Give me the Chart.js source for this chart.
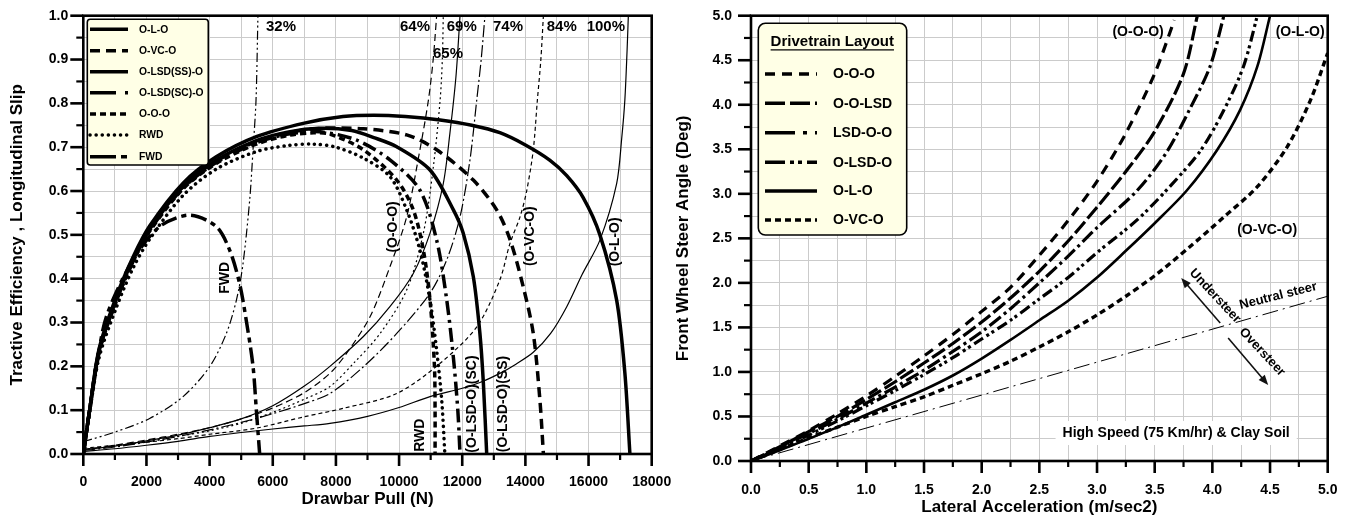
<!DOCTYPE html>
<html><head><meta charset="utf-8">
<script src="https://cdn.jsdelivr.net/npm/chart.js@4/dist/chart.umd.min.js"></script>
<style>
html,body{margin:0;padding:0;background:#fff;width:1351px;height:519px;overflow:hidden;}
#c1{position:absolute;left:0;top:0;}
#c2{position:absolute;left:665px;top:0;}
</style></head><body>
<canvas id="c1" width="675" height="519"></canvas>
<canvas id="c2" width="686" height="519"></canvas>
<script>
// ---------------- LEFT CHART DATA (Drawbar Pull N, value) ----------------
const leftXTicks = [0, 2000, 4000, 6000, 8000, 10000, 12000, 14000, 16000, 18000];
const leftYTicks = [0.0, 0.1, 0.2, 0.3, 0.4, 0.5, 0.6, 0.7, 0.8, 0.9, 1.0];

const oloEff = [[0,0],[200,0.1],[500,0.24],[1050,0.36],[1580,0.45],[2100,0.52],[3160,0.618],[4210,0.678],[5480,0.724],[7000,0.755],[8225,0.77],[9200,0.773],[10200,0.77],[11300,0.762],[12300,0.75],[13190,0.733],[14000,0.705],[14780,0.67],[15310,0.635],[15830,0.585],[16360,0.5],[16890,0.351],[17150,0.185],[17310,0]];
const ovcoEff = [[0,0],[200,0.1],[500,0.235],[1050,0.355],[1580,0.445],[2100,0.513],[3160,0.61],[4210,0.668],[5480,0.713],[6500,0.733],[7500,0.743],[8870,0.742],[10240,0.728],[11190,0.694],[12350,0.625],[13090,0.557],[13510,0.49],[13930,0.382],[14250,0.275],[14460,0.123],[14570,0]];
const olsdSSEff = [[0,0],[200,0.1],[500,0.235],[1050,0.355],[1580,0.445],[2100,0.513],[3160,0.61],[4210,0.67],[5480,0.715],[6500,0.735],[7500,0.743],[8500,0.738],[9200,0.722],[9925,0.701],[10980,0.648],[11720,0.557],[12030,0.504],[12350,0.405],[12560,0.275],[12670,0.161],[12775,0]];
const olsdSCEff = [[0,0],[200,0.1],[500,0.235],[1050,0.35],[1580,0.44],[2100,0.51],[3160,0.607],[4210,0.665],[5480,0.71],[6500,0.73],[7500,0.735],[8660,0.716],[9710,0.671],[10660,0.602],[11190,0.488],[11510,0.351],[11720,0.22],[11860,0.1],[11930,0]];
const oooEff = [[0,0],[200,0.1],[500,0.232],[1050,0.35],[1580,0.44],[2100,0.508],[3160,0.605],[4210,0.663],[5480,0.707],[6500,0.727],[7300,0.733],[7810,0.73],[8870,0.694],[9925,0.625],[10450,0.557],[10770,0.465],[10980,0.351],[11120,0.2],[11140,0.1],[11140,0]];
const rwdEff = [[0,0],[200,0.095],[500,0.22],[1050,0.335],[1580,0.425],[2100,0.49],[3160,0.59],[4210,0.65],[5480,0.69],[6500,0.704],[7300,0.707],[8000,0.7],[8870,0.675],[9710,0.633],[10240,0.557],[10660,0.465],[10980,0.351],[11190,0.237],[11350,0.123],[11450,0]];
const fwdEff = [[0,0],[200,0.1],[400,0.19],[730,0.313],[1575,0.443],[2420,0.519],[3370,0.545],[4210,0.519],[4635,0.465],[4950,0.389],[5160,0.305],[5375,0.2],[5480,0.1],[5585,0]];

const oloSlip = [[0,0.006],[1000,0.012],[2000,0.02],[3000,0.029],[4000,0.04],[5000,0.049],[6000,0.057],[7000,0.064],[7810,0.07],[9000,0.086],[10000,0.106],[10980,0.131],[12000,0.15],[12560,0.163],[13190,0.184],[13700,0.205],[14250,0.232],[14800,0.275],[15310,0.336],[15800,0.41],[16360,0.488],[16890,0.617],[17050,0.72],[17150,0.808],[17220,0.92],[17260,1.0]];
const ovcoSlip = [[0,0.013],[1000,0.02],[2000,0.027],[3000,0.035],[4000,0.045],[5480,0.059],[7000,0.085],[8225,0.104],[9925,0.138],[11300,0.207],[12460,0.29],[13190,0.397],[13510,0.48],[13830,0.541],[14040,0.6],[14250,0.694],[14380,0.808],[14490,0.9],[14570,1.0]];
const olsdSSSlip = [[0,0.008],[1000,0.016],[2000,0.027],[3000,0.04],[4000,0.055],[5000,0.072],[6000,0.092],[7000,0.115],[7810,0.138],[8870,0.199],[9925,0.275],[10980,0.367],[11510,0.443],[11930,0.541],[12245,0.671],[12460,0.808],[12600,0.9],[12720,1.0]];
const olsdSCSlip = [[0,0.01],[1000,0.018],[2000,0.03],[3000,0.043],[4000,0.06],[5000,0.08],[6000,0.11],[7000,0.155],[7810,0.2],[8870,0.268],[9710,0.336],[10450,0.412],[10980,0.504],[11400,0.617],[11610,0.732],[11800,0.86],[11930,1.0]];
const oooSlip = [[0,0.01],[1000,0.02],[2000,0.032],[3000,0.045],[4000,0.06],[5000,0.08],[6000,0.105],[7000,0.14],[7810,0.184],[8340,0.23],[9080,0.313],[9710,0.427],[10240,0.541],[10660,0.694],[10930,0.808],[11080,0.9],[11190,1.0]];
const rwdSlip = [[0,0.01],[1000,0.018],[2000,0.028],[3000,0.04],[4000,0.053],[5000,0.07],[6000,0.095],[7000,0.125],[7810,0.154],[8600,0.21],[9400,0.275],[10240,0.374],[10770,0.504],[11085,0.655],[11300,0.808],[11370,0.9],[11400,1.0]];
const fwdSlip = [[0,0.028],[1000,0.05],[2100,0.081],[3160,0.131],[4000,0.199],[4530,0.275],[4845,0.35],[5050,0.43],[5270,0.58],[5375,0.694],[5470,0.808],[5530,1.0]];

// ---------------- RIGHT CHART DATA (Lateral acc m/s2, steer angle deg) ----------------
const rightXTicks = [0.0, 0.5, 1.0, 1.5, 2.0, 2.5, 3.0, 3.5, 4.0, 4.5, 5.0];
const rightYTicks = [0.0, 0.5, 1.0, 1.5, 2.0, 2.5, 3.0, 3.5, 4.0, 4.5, 5.0];

const steerOOO = [[0,0],[0.25,0.17],[0.5,0.34],[0.75,0.53],[1.0,0.73],[1.25,0.95],[1.5,1.18],[1.75,1.42],[2.0,1.68],[2.25,1.95],[2.5,2.31],[2.75,2.7],[3.0,3.14],[3.25,3.68],[3.5,4.35],[3.67,4.95]];
const steerOOLSD = [[0,0],[0.25,0.16],[0.5,0.33],[0.75,0.5],[1.0,0.69],[1.25,0.89],[1.5,1.1],[1.75,1.32],[2.0,1.56],[2.25,1.83],[2.5,2.13],[2.75,2.47],[3.0,2.85],[3.25,3.25],[3.5,3.7],[3.75,4.35],[3.87,5.0]];
const steerLSDOO = [[0,0],[0.25,0.15],[0.5,0.31],[0.75,0.47],[1.0,0.65],[1.25,0.83],[1.5,1.02],[1.75,1.23],[2.0,1.45],[2.25,1.71],[2.5,2.0],[2.75,2.3],[3.0,2.62],[3.35,3.04],[3.6,3.46],[3.8,3.94],[3.98,4.43],[4.1,5.0]];
const steerOLSDO = [[0,0],[0.25,0.14],[0.5,0.29],[0.75,0.45],[1.0,0.62],[1.25,0.79],[1.5,0.97],[1.75,1.16],[2.0,1.37],[2.25,1.58],[2.5,1.82],[2.75,2.06],[3.0,2.34],[3.35,2.71],[3.63,3.08],[3.9,3.49],[4.1,3.94],[4.27,4.43],[4.39,5.0]];
const steerOLO = [[0,0],[0.25,0.12],[0.5,0.25],[0.75,0.38],[1.0,0.52],[1.25,0.66],[1.5,0.8],[1.75,0.96],[2.0,1.15],[2.25,1.36],[2.5,1.58],[2.75,1.8],[3.0,2.06],[3.25,2.36],[3.5,2.67],[3.78,3.04],[4.04,3.49],[4.24,3.94],[4.39,4.43],[4.5,5.0]];
const steerOVCO = [[0,0],[0.25,0.13],[0.5,0.26],[0.75,0.38],[1.0,0.5],[1.25,0.61],[1.5,0.72],[1.75,0.85],[2.0,0.98],[2.25,1.12],[2.5,1.28],[2.75,1.45],[3.0,1.64],[3.25,1.85],[3.5,2.08],[3.8,2.4],[4.1,2.74],[4.39,3.08],[4.65,3.53],[4.85,4.05],[5.0,4.58]];
const neutralSteer = [[0,0],[5,1.85]];

// ---------------- helpers ----------------
const FONT = '"Liberation Sans", Arial, Helvetica, sans-serif';
const pts = a => a.map(([x, y]) => ({x, y}));
function line(label, arr, width, dash, extra) {
  return Object.assign({label, data: pts(arr), showLine: true, borderColor: '#000', backgroundColor: '#000',
    borderWidth: width, borderDash: dash, pointRadius: 0, pointHoverRadius: 0, tension: 0.3, fill: false}, extra || {});
}
function near(v, step) { return Math.abs(v / step - Math.round(v / step)) < 1e-6; }

function makePlugin(cfg) {
  return {
    id: 'deco' + cfg.name,
    afterDatasetsDraw(chart) {
      const {ctx, scales: {x, y}} = chart;
      ctx.save();
      cfg.labels.forEach(L => {
        const px = x.getPixelForValue(L.x), py = y.getPixelForValue(L.y);
        ctx.save();
        ctx.translate(px, py);
        ctx.rotate((L.r || 0) * Math.PI / 180);
        ctx.font = 'bold ' + (L.s || 14) + 'px ' + FONT;
        ctx.textAlign = 'center'; ctx.textBaseline = 'middle';
        if (L.bg) {
          const w = ctx.measureText(L.t).width;
          ctx.fillStyle = '#fff';
          ctx.fillRect(-w / 2 - 7, -12, w + 14, 24);
        }
        ctx.fillStyle = '#000';
        ctx.fillText(L.t, 0, 0);
        ctx.restore();
      });
      (cfg.arrows || []).forEach(A => {
        const x0 = x.getPixelForValue(A[0]), y0 = y.getPixelForValue(A[1]);
        const x1 = x.getPixelForValue(A[2]), y1 = y.getPixelForValue(A[3]);
        const ang = Math.atan2(y1 - y0, x1 - x0);
        ctx.strokeStyle = '#111'; ctx.fillStyle = '#111'; ctx.lineWidth = 1.6; ctx.setLineDash([]);
        ctx.beginPath(); ctx.moveTo(x0, y0); ctx.lineTo(x1 - 6 * Math.cos(ang), y1 - 6 * Math.sin(ang)); ctx.stroke();
        ctx.beginPath(); ctx.moveTo(x1, y1);
        ctx.lineTo(x1 - 10 * Math.cos(ang) + 4 * Math.sin(ang), y1 - 10 * Math.sin(ang) - 4 * Math.cos(ang));
        ctx.lineTo(x1 - 10 * Math.cos(ang) - 4 * Math.sin(ang), y1 - 10 * Math.sin(ang) + 4 * Math.cos(ang));
        ctx.closePath(); ctx.fill();
      });
      const G = cfg.legend;
      ctx.setLineDash([]);
      ctx.fillStyle = '#ffffe6'; ctx.strokeStyle = '#000'; ctx.lineWidth = 1.6;
      ctx.beginPath();
      ctx.roundRect(G.x, G.y, G.w, G.h, G.rad);
      ctx.fill(); ctx.stroke();
      if (G.title) {
        ctx.font = 'bold ' + G.titleSize + 'px ' + FONT;
        ctx.fillStyle = '#000'; ctx.textAlign = 'center'; ctx.textBaseline = 'middle';
        ctx.fillText(G.title, G.titleX, G.titleY);
        const tw = ctx.measureText(G.title).width;
        ctx.lineWidth = 1.3;
        ctx.beginPath(); ctx.moveTo(G.titleX - tw / 2, G.titleY + G.titleSize * 0.55); ctx.lineTo(G.titleX + tw / 2, G.titleY + G.titleSize * 0.55); ctx.stroke();
      }
      const items = chart.data.datasets.filter(d => d.inLegend);
      items.forEach((d, i) => {
        const yy = G.rows[i];
        ctx.strokeStyle = '#000'; ctx.lineWidth = G.lw; ctx.lineCap = d.borderCapStyle || 'butt';
        ctx.setLineDash(d.legendDash || d.borderDash || []);
        ctx.beginPath(); ctx.moveTo(G.sx0, yy); ctx.lineTo(G.sx1, yy); ctx.stroke();
        ctx.setLineDash([]); ctx.lineCap = 'butt';
        ctx.font = 'bold ' + G.size + 'px ' + FONT;
        ctx.fillStyle = '#000'; ctx.textAlign = 'left'; ctx.textBaseline = 'middle';
        ctx.fillText(d.label, G.tx, yy + 0.5);
      });
      ctx.restore();
    },
    afterDraw(chart) {
      const {ctx, chartArea: a, scales: {x, y}} = chart;
      ctx.save();
      ctx.strokeStyle = '#000'; ctx.setLineDash([]);
      x.ticks.forEach(t => {
        const px = x.getPixelForValue(t.value);
        const major = near(t.value, cfg.xMajor);
        ctx.lineWidth = major ? 2.6 : 2.2;
        ctx.beginPath(); ctx.moveTo(px, a.bottom); ctx.lineTo(px, a.bottom + (major ? 12 : 6)); ctx.stroke();
      });
      y.ticks.forEach(t => {
        const py = y.getPixelForValue(t.value);
        const major = near(t.value, cfg.yMajor);
        ctx.lineWidth = major ? 2.6 : 2.2;
        ctx.beginPath(); ctx.moveTo(a.left, py); ctx.lineTo(a.left - (major ? 13 : 7), py); ctx.stroke();
      });
      ctx.lineWidth = 2.6;
      ctx.strokeRect(a.left, a.top, a.right - a.left, a.bottom - a.top);
      ctx.restore();
    }
  };
}

function noPad(s) { s.paddingLeft = 0; s.paddingRight = 0; s.paddingTop = 0; s.paddingBottom = 0; }
function axes(o) {
  const tickFont = {family: FONT, size: 14, weight: 'bold'};
  const titleFont = {family: FONT, size: 17, weight: 'bold'};
  return {
    x: {type: 'linear', min: o.xMin, max: o.xMax,
      afterFit: s => { s.height = o.xHeight; noPad(s); },
      afterBuildTicks: s => { s.ticks = o.xGrid.map(v => ({value: v})); },
      ticks: {autoSkip: false, maxRotation: 0, padding: o.xPad, color: '#000', font: tickFont,
        callback: v => (o.xLabels.some(t => Math.abs(t - v) < 1e-9) ? o.xFmt(v) : '')},
      grid: {color: '#cbcbcb', lineWidth: 1, drawTicks: false}, border: {display: false},
      title: {display: true, text: o.xTitle, color: '#000', font: titleFont, padding: {top: 0, bottom: o.xTitlePad}}},
    y: {type: 'linear', min: o.yMin, max: o.yMax,
      afterFit: s => { s.width = o.yWidth; noPad(s); },
      afterBuildTicks: s => { s.ticks = o.yGrid.map(v => ({value: v})); },
      ticks: {autoSkip: false, padding: o.yPad, color: '#000', font: tickFont,
        callback: v => (o.yLabels.some(t => Math.abs(t - v) < 1e-9) ? v.toFixed(1) : '')},
      grid: {color: '#cbcbcb', lineWidth: 1, drawTicks: false}, border: {display: false},
      title: {display: true, text: o.yTitle, color: '#000', font: titleFont, padding: {top: o.yTitlePad, bottom: 0}}}
  };
}
function gridList(min, max, step) { const r = []; for (let i = 0; min + i * step <= max + 1e-9; i++) r.push(+(min + i * step).toFixed(6)); return r; }

// ---------------- LEFT CHART ----------------
const leftDatasets = [
  line('O-L-O', oloEff, 3.5, [], {inLegend: true}),
  line('O-VC-O', ovcoEff, 3.5, [10, 6], {inLegend: true}),
  line('O-LSD(SS)-O', olsdSSEff, 3.5, [], {inLegend: true}),
  line('O-LSD(SC)-O', olsdSCEff, 3.5, [14, 5, 3, 5], {inLegend: true, legendDash: [26, 9, 3, 9]}),
  line('O-O-O', oooEff, 3.5, [6, 4], {inLegend: true}),
  line('RWD', rwdEff, 3.5, [0.1, 6], {inLegend: true, borderCapStyle: 'round'}),
  line('FWD', fwdEff, 3.5, [16, 5, 5, 5], {inLegend: true, legendDash: [26, 5, 6, 5]}),
  line('O-L-O slip', oloSlip, 1.2, []),
  line('O-VC-O slip', ovcoSlip, 1.2, [4, 3]),
  line('O-LSD(SS)-O slip', olsdSSSlip, 1.2, [12, 3, 2, 3]),
  line('O-LSD(SC)-O slip', olsdSCSlip, 1.2, []),
  line('O-O-O slip', oooSlip, 1.2, [7, 4]),
  line('RWD slip', rwdSlip, 1.2, [2, 3]),
  line('FWD slip', fwdSlip, 1.2, [9, 3, 2, 3, 2, 3])
];
const leftCfg = {
  name: 'L', xMajor: 2000, yMajor: 0.1,
  labels: [
    {t: '32%', x: 6260, y: 0.9735, s: 15}, {t: '64%', x: 10505, y: 0.9735, s: 15},
    {t: '65%', x: 11550, y: 0.914, s: 15}, {t: '69%', x: 11984, y: 0.9735, s: 15},
    {t: '74%', x: 13450, y: 0.9735, s: 15}, {t: '84%', x: 15151, y: 0.9735, s: 15},
    {t: '100%', x: 16548, y: 0.9735, s: 15},
    {t: 'FWD', x: 4490, y: 0.402, r: -90}, {t: '(O-O-O)', x: 9810, y: 0.518, r: -90},
    {t: 'RWD', x: 10660, y: 0.043, r: -90}, {t: '(O-LSD-O)(SC)', x: 12300, y: 0.114, r: -90},
    {t: '(O-LSD-O)(SS)', x: 13290, y: 0.114, r: -90}, {t: '(O-VC-O)', x: 14150, y: 0.497, r: -90},
    {t: '(O-L-O)', x: 16840, y: 0.484, r: -90}
  ],
  legend: {x: 87.3, y: 19.3, w: 121, h: 145.7, rad: 3, sx0: 90, sx1: 128, tx: 139, size: 10.3, lw: 3.5,
    rows: [29.3, 50.7, 71.7, 92.7, 114, 135, 156.7]}
};
new Chart(document.getElementById('c1'), {
  type: 'scatter',
  data: {datasets: leftDatasets},
  options: {
    responsive: false, animation: false, events: [],
    layout: {padding: {top: 15.7, right: 675 - 651.7, bottom: 0, left: 0}},
    plugins: {legend: {display: false}, tooltip: {enabled: false}},
    scales: axes({xMin: 0, xMax: 18000, yMin: 0, yMax: 1, xHeight: 519 - 454, yWidth: 83.3,
      xGrid: gridList(0, 18000, 1000), yGrid: gridList(0, 1, 0.05), xLabels: leftXTicks, yLabels: leftYTicks,
      xFmt: v => String(Math.round(v)), xPad: 20, yPad: 15,
      xTitle: 'Drawbar Pull (N)', yTitle: 'Tractive Efficiency , Longitudinal Slip', xTitlePad: 9, yTitlePad: 7.5})
  },
  plugins: [makePlugin(leftCfg)]
});

// ---------------- RIGHT CHART ----------------
const rightDatasets = [
  line('O-O-O', steerOOO, 3.2, [10, 7], {inLegend: true}),
  line('O-O-LSD', steerOOLSD, 3.2, [15, 4], {inLegend: true, legendDash: [20, 5]}),
  line('LSD-O-O', steerLSDOO, 3.2, [14, 4, 3, 4], {inLegend: true, legendDash: [30, 8, 4, 8]}),
  line('O-LSD-O', steerOLSDO, 3.2, [11, 4, 3, 3, 3, 4], {inLegend: true, legendDash: [20, 5, 4, 4, 4, 5]}),
  line('O-L-O', steerOLO, 2.6, [], {inLegend: true}),
  line('O-VC-O', steerOVCO, 3.4, [6, 4], {inLegend: true}),
  line('Neutral steer', neutralSteer, 1, [16, 5, 2, 5], {tension: 0})
];
const rightCfg = {
  name: 'R', xMajor: 0.5, yMajor: 0.5,
  labels: [
    {t: '(O-O-O)', x: 3.356, y: 4.817}, {t: '(O-L-O)', x: 4.761, y: 4.817},
    {t: '(O-VC-O)', x: 4.475, y: 2.594},
    {t: 'Neutral steer', x: 4.571, y: 1.853, r: -14, s: 13},
    {t: 'Understeer', x: 4.024, y: 1.853, r: 47, s: 13},
    {t: 'Oversteer', x: 4.432, y: 1.224, r: 47, s: 13},
    {t: 'High Speed (75 Km/hr) & Clay Soil', x: 3.686, y: 0.314, bg: true, s: 14}
  ],
  arrows: [[4.068, 1.55, 3.73, 2.055], [4.137, 1.381, 4.484, 0.853]],
  legend: {x: 93.3, y: 23.3, w: 148.4, h: 211.7, rad: 7, sx0: 100, sx1: 152, tx: 168, size: 14, lw: 3.5,
    title: 'Drivetrain Layout', titleSize: 15, titleX: 167.3, titleY: 41.7,
    rows: [74, 103.3, 132.7, 162.3, 191, 220]}
};
new Chart(document.getElementById('c2'), {
  type: 'scatter',
  data: {datasets: rightDatasets},
  options: {
    responsive: false, animation: false, events: [],
    layout: {padding: {top: 15.7, right: 686 - 662.7, bottom: 0, left: 0}},
    plugins: {legend: {display: false}, tooltip: {enabled: false}},
    scales: axes({xMin: 0, xMax: 5, yMin: 0, yMax: 5, xHeight: 519 - 461, yWidth: 86,
      xGrid: gridList(0, 5, 0.25), yGrid: gridList(0, 5, 0.25), xLabels: rightXTicks, yLabels: rightYTicks,
      xFmt: v => v.toFixed(1), xPad: 21, yPad: 19,
      xTitle: 'Lateral Acceleration (m/sec2)', yTitle: 'Front Wheel Steer Angle (Deg)', xTitlePad: 1, yTitlePad: 8})
  },
  plugins: [makePlugin(rightCfg)]
});
</script>
</body></html>
